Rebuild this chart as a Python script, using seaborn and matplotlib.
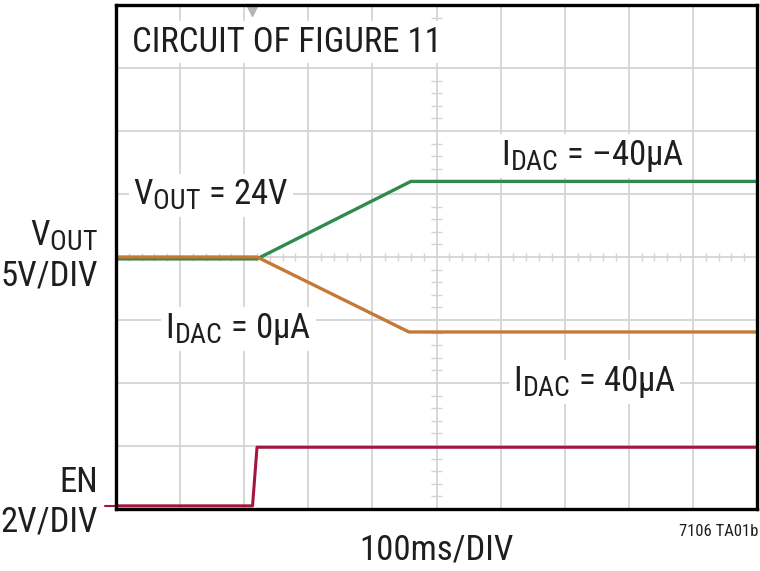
import numpy as np
import pandas as pd
import matplotlib
matplotlib.use("Agg")
import matplotlib.pyplot as plt
import matplotlib._mathtext as _mt
import seaborn as sns
from matplotlib import font_manager

# ---- data (in screen divisions: x = 100ms/div, y = volts/div) ----
vout_neg_t = [0.0, 2.2, 4.6, 10.0]        # IDAC = -40uA trace
vout_neg_v = [3.97, 3.97, 5.2, 5.2]
vout_pos_t = [0.0, 2.2, 4.57, 10.0]       # IDAC = 40uA trace
vout_pos_v = [4.0, 4.0, 2.81, 2.81]
en_t = [0.0, 2.13, 2.2, 10.0]             # EN trace
en_v = [0.05, 0.05, 0.98, 0.98]

x_divs = 10
y_divs = 8

sns.set_theme(style="white")
names = {f.name for f in font_manager.fontManager.ttflist}
FONT = "Liberation Sans"
for cand in ["Roboto Condensed", "Archivo Narrow", "PT Sans Narrow",
             "Pragati Narrow", "Asap Condensed", "Barlow Semi Condensed"]:
    if cand in names:
        FONT = cand
        break
plt.rcParams["font.family"] = [FONT, "DejaVu Sans"]
plt.rcParams["mathtext.fontset"] = "custom"
plt.rcParams["mathtext.rm"] = FONT
plt.rcParams["mathtext.it"] = FONT
plt.rcParams["mathtext.bf"] = FONT
plt.rcParams["mathtext.default"] = "regular"
# larger subscripts, like the reference
_mt.SHRINK_FACTOR = 0.8

fig = plt.figure(figsize=(7.6, 5.71), dpi=100)
ax = fig.add_axes([116 / 760, 1 - 509 / 571, 641 / 760, 504 / 571])
ax.set_xlim(0, x_divs)
ax.set_ylim(0, y_divs)

GRID = "#d4d4d4"
for i in range(1, x_divs):
    ax.axvline(i, color=GRID, lw=1.3, zorder=0)
for j in range(1, y_divs):
    ax.axhline(j, color=GRID, lw=1.3, zorder=0)
# minor ticks on centre lines
mx = [k * 0.2 for k in range(1, 50) if k % 5 != 0]
ax.vlines(mx, 4 - 0.07, 4 + 0.07, color=GRID, lw=1.0, zorder=0)
my = [k * 0.2 for k in range(1, 40) if k % 5 != 0]
ax.hlines(my, 5 - 0.08, 5 + 0.08, color=GRID, lw=1.0, zorder=0)

GREEN = "#2e8b4b"
ORANGE = "#c47a36"
RED = "#a3173f"

df_g = pd.DataFrame({"t": vout_neg_t, "v": vout_neg_v})
df_o = pd.DataFrame({"t": vout_pos_t, "v": vout_pos_v})
df_e = pd.DataFrame({"t": en_t, "v": en_v})
sns.lineplot(data=df_g, x="t", y="v", ax=ax, color=GREEN, lw=2.4, zorder=3, estimator=None, sort=False)
sns.lineplot(data=df_o, x="t", y="v", ax=ax, color=ORANGE, lw=2.4, zorder=4, estimator=None, sort=False)
sns.lineplot(data=df_e, x="t", y="v", ax=ax, color=RED, lw=2.2, zorder=3, estimator=None, sort=False)

# ground marker for EN and trigger marker
ax.plot([-0.17, 0], [en_v[0], en_v[0]], color=RED, lw=1.5, clip_on=False)
ax.plot([2.12], [7.92], marker="v", color="#b5b5b5", markersize=8, clip_on=False, zorder=5)

ax.set_xticks([])
ax.set_yticks([])
ax.set_xlabel("")
ax.set_ylabel("")
for s in ax.spines.values():
    s.set_color("black")
    s.set_linewidth(2.4)
    s.set_zorder(10)

box = dict(facecolor="white", edgecolor="none", pad=3)
FS = 25
TC = "#1e1e1e"
ax.text(0.25, 7.26, "CIRCUIT OF FIGURE 11", fontsize=FS, va="baseline", ha="left",
        bbox=box, color=TC, zorder=6)
ax.text(0.27, 4.83, r"$V_{OUT}$ = 24V", fontsize=FS, va="baseline", ha="left",
        bbox=box, color=TC, zorder=6)
ax.text(6.0, 5.46, "$I_{DAC}$ = \u201340\u03bcA", fontsize=FS, va="baseline", ha="left",
        bbox=box, color=TC, zorder=6)
ax.text(0.77, 2.71, "$I_{DAC}$ = 0\u03bcA", fontsize=FS, va="baseline", ha="left",
        bbox=box, color=TC, zorder=6)
ax.text(6.19, 1.87, "$I_{DAC}$ = 40\u03bcA", fontsize=FS, va="baseline", ha="left",
        bbox=box, color=TC, zorder=6)

fig.text(98 / 760, 1 - 245 / 571, r"$V_{OUT}$", fontsize=FS, ha="right", va="baseline", color=TC)
fig.text(98 / 760, 1 - 285 / 571, "5V/DIV", fontsize=FS, ha="right", va="baseline", color=TC)
fig.text(98 / 760, 1 - 492 / 571, "EN", fontsize=FS, ha="right", va="baseline", color=TC)
fig.text(98 / 760, 1 - 531 / 571, "2V/DIV", fontsize=FS, ha="right", va="baseline", color=TC)
fig.text(437 / 760, 1 - 560 / 571, "100ms/DIV", fontsize=FS, ha="center", va="baseline", color=TC)
fig.text(758 / 760, 1 - 536 / 571, "7106 TA01b", fontsize=12, ha="right", va="baseline", color=TC)

fig.savefig("out.png", dpi=100, facecolor="white")
